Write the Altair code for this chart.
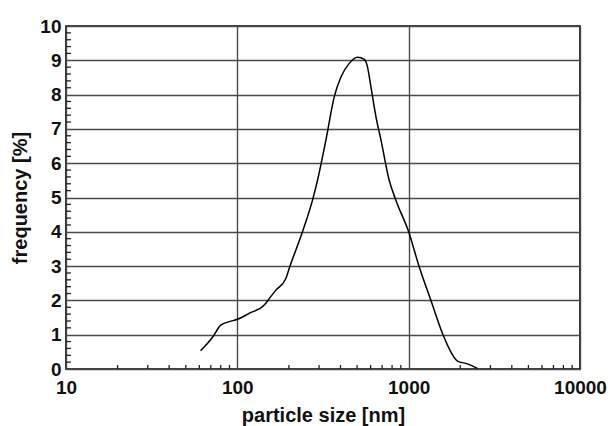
import altair as alt
import pandas as pd

# Particle size distribution (nm) and frequency (%)
size_nm = [61, 72, 80, 90, 100, 117, 144, 154, 168, 192, 201, 240, 275, 294,
           329, 368, 403, 450, 503, 551, 575, 602, 644, 689, 769, 841, 1000,
           1152, 1346, 1574, 1762, 1927, 2204, 2518]
freq_pct = [0.53, 0.94, 1.28, 1.38, 1.45, 1.62, 1.87, 2.06, 2.30, 2.64, 2.94,
            4.0, 4.93, 5.51, 6.68, 7.94, 8.52, 8.91, 9.09, 9.03, 8.81, 8.23,
            7.36, 6.68, 5.51, 4.93, 4.0, 2.98, 2.01, 1.04, 0.50, 0.23, 0.15,
            0.02]

x_major = [10, 100, 1000, 10000]
y_major = list(range(0, 11))
x_minor = [m * d for d in (10, 100, 1000) for m in range(2, 10)]
y_minor = [round(i * 0.2, 1) for i in range(1, 50) if i % 5 != 0]

W, H = 514, 343
FONT = "Liberation Sans"

curve = pd.DataFrame({"size": size_nm, "freq": freq_pct})
xs = alt.Scale(type="log", domain=[10, 10000], nice=False)
ys = alt.Scale(domain=[0, 10], nice=False)

line = alt.Chart(curve).mark_line(
    color="black", strokeWidth=1.5, interpolate="monotone"
).encode(
    x=alt.X("size:Q", scale=xs, title="particle size [nm]",
            axis=alt.Axis(values=x_major, format="d", grid=True,
                          gridColor="#4a4a4a", gridWidth=1.4, ticks=False,
                          domain=False)),
    y=alt.Y("freq:Q", scale=ys, title="frequency [%]",
            axis=alt.Axis(values=y_major, grid=True, gridColor="#4a4a4a",
                          gridWidth=1.4, ticks=False, domain=False)),
)

# inward minor ticks along the bottom and left frame edges
xminor = alt.Chart(alt.Data(values=[{"xv": v} for v in x_minor])).mark_rule(
    color="#222", strokeWidth=1.3
).encode(
    x=alt.X("xv:Q", scale=xs, axis=None),
    y=alt.value(H),
    y2=alt.value(H - 4),
)

yminor = alt.Chart(alt.Data(values=[{"yv": v} for v in y_minor])).mark_rule(
    color="#222", strokeWidth=1.3
).encode(
    y=alt.Y("yv:Q", scale=ys, axis=None),
    x=alt.value(0),
    x2=alt.value(5),
)

chart = alt.layer(line, xminor, yminor).resolve_axis(
    x="independent", y="independent"
).properties(
    width=W,
    height=H,
    autosize=alt.AutoSizeParams(type="none"),
    padding={"left": 66, "top": 26, "right": 30, "bottom": 57},
).configure(
    background="white"
).configure_view(
    stroke="black", strokeWidth=1.6
).configure_axis(
    labelFont=FONT, labelFontSize=19, labelFontWeight="bold",
    labelColor="#111", labelFlush=False,
    titleFont=FONT, titleFontSize=20, titleFontWeight="bold",
    titleColor="#111",
).configure_axisX(
    labelPadding=9, titlePadding=8
).configure_axisY(
    labelPadding=5, titlePadding=9
)

chart.save("out.html", embed_options={"renderer": "svg", "actions": False})
